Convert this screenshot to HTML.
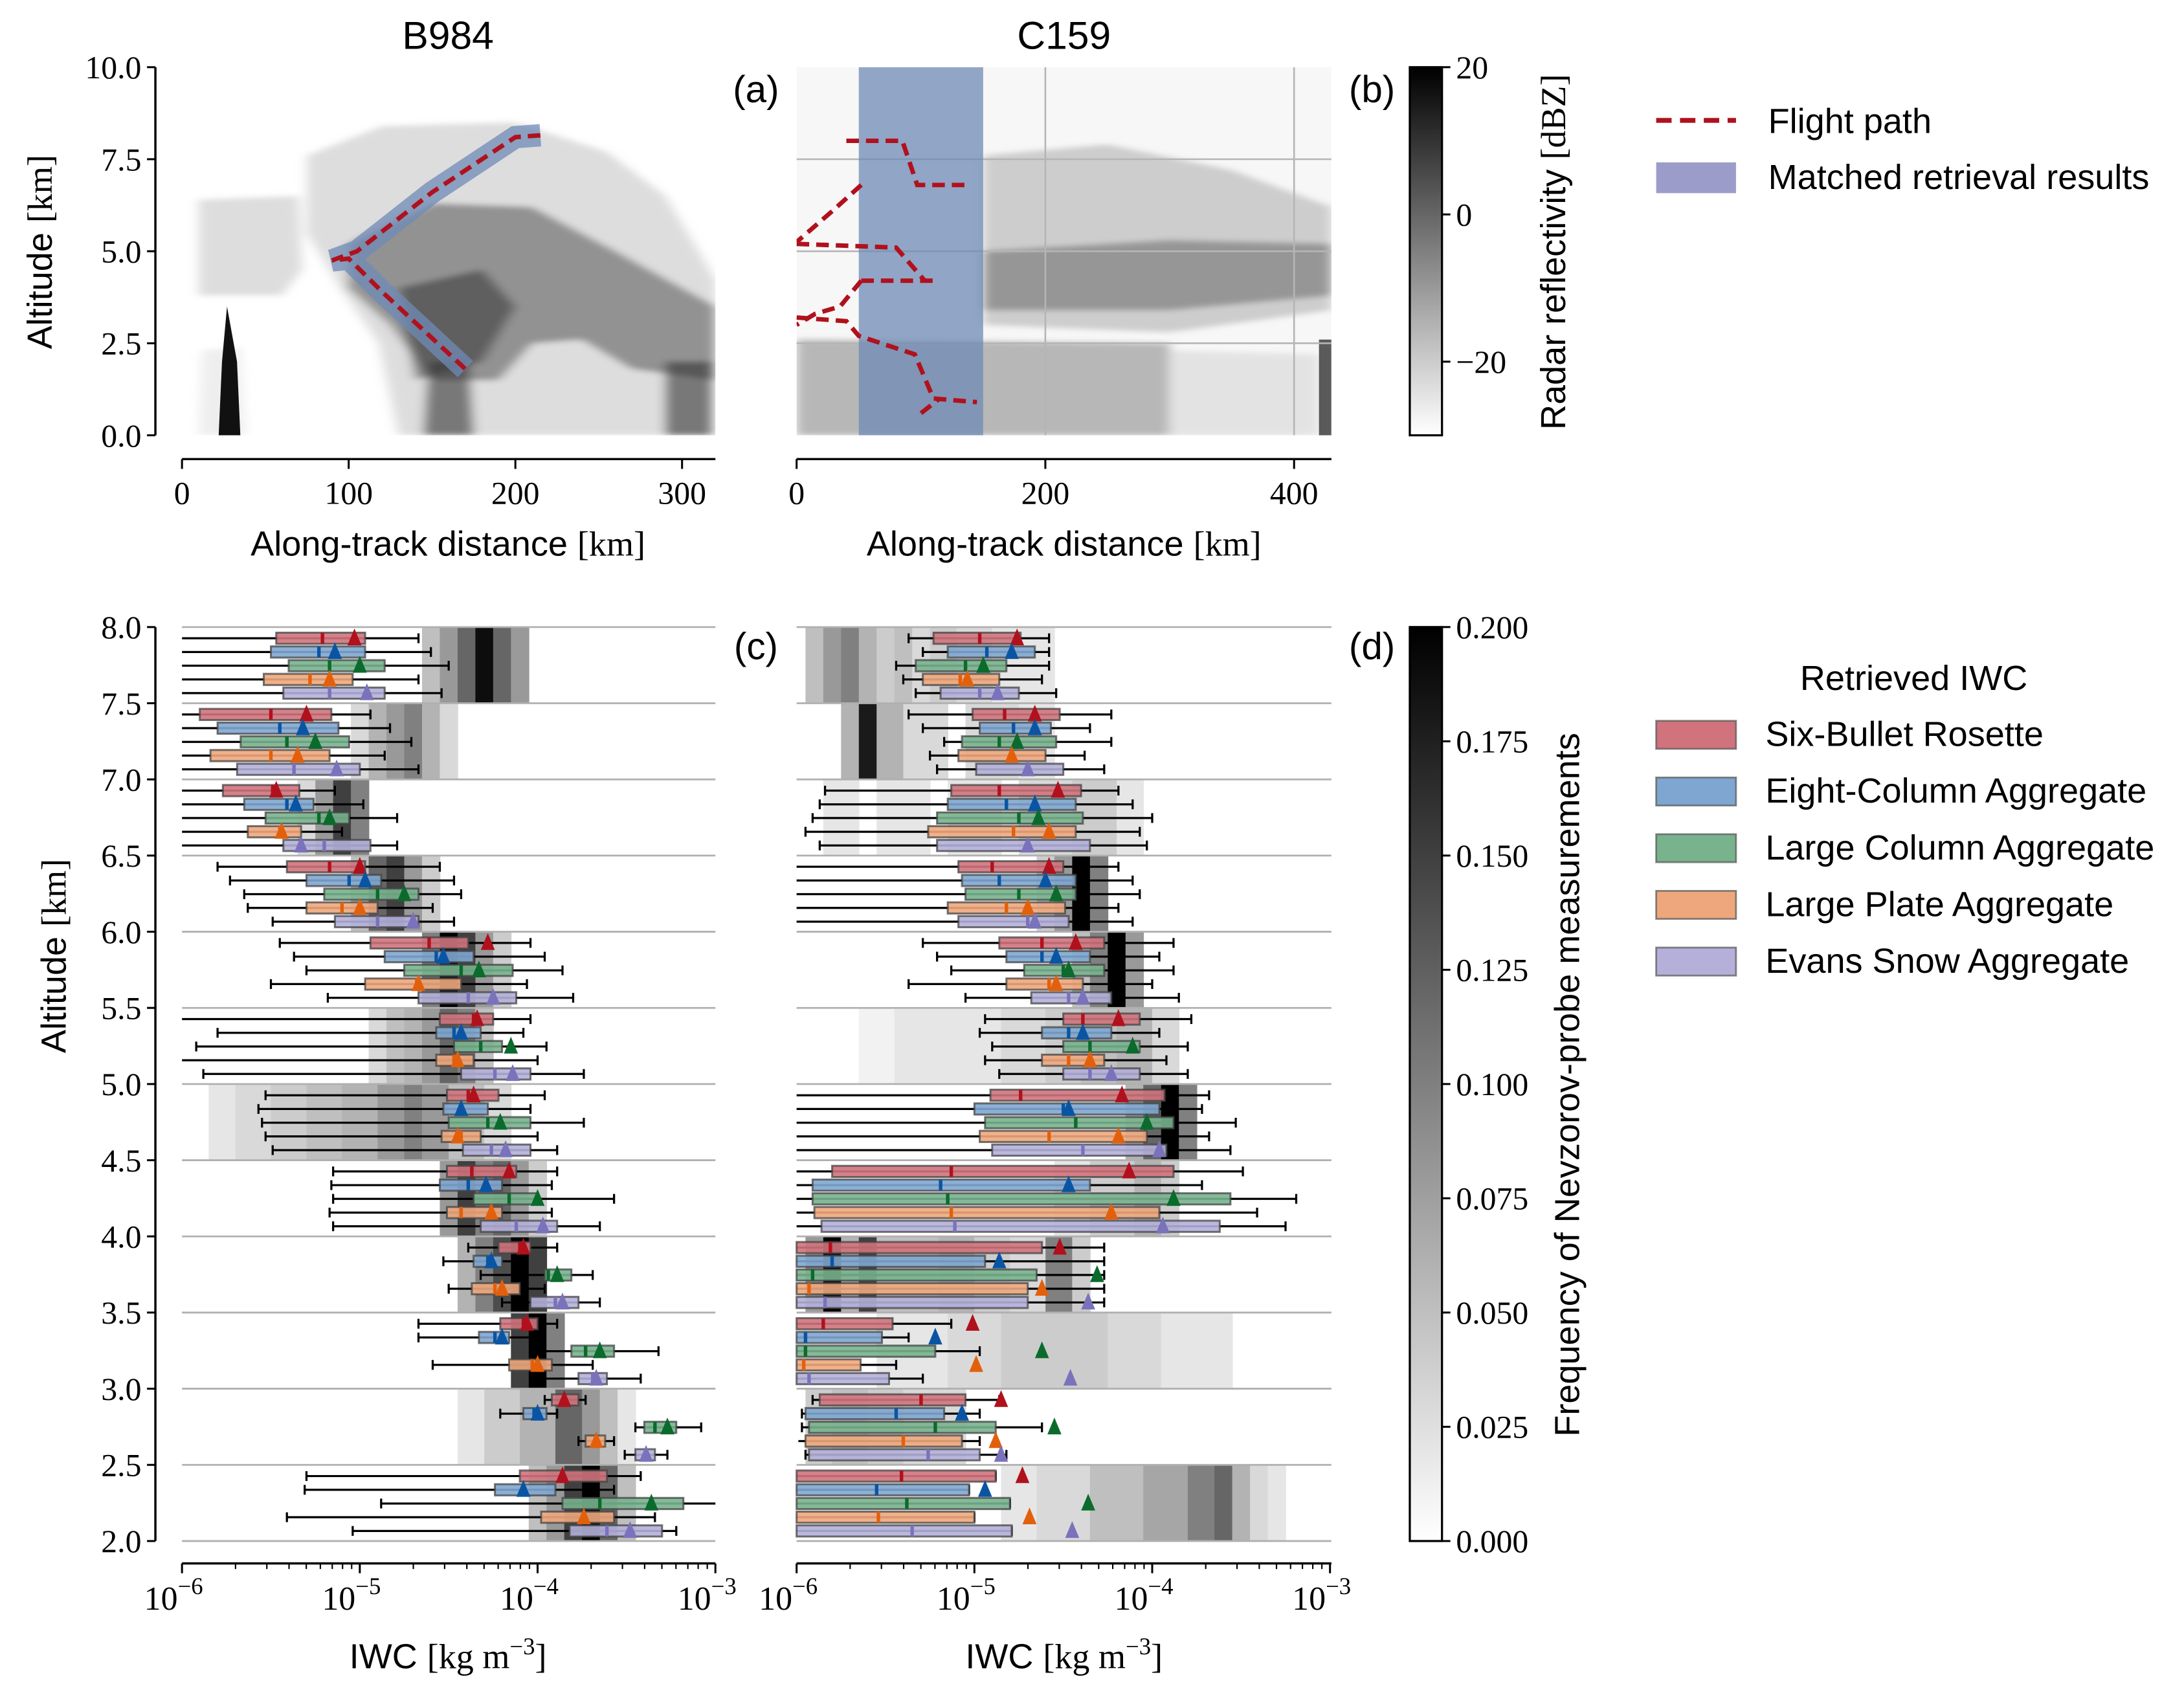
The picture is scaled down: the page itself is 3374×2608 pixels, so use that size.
<!DOCTYPE html>
<html><head><meta charset="utf-8">
<style>
html,body{margin:0;padding:0;background:#fff;}
svg{display:block;}
.sans{font-family:"Liberation Sans","DejaVu Sans",sans-serif;}
.serif{font-family:"Liberation Serif",serif;}
</style></head>
<body>
<svg id="fig" width="3374" height="2608" viewBox="0 0 1560 1206" preserveAspectRatio="none" xmlns="http://www.w3.org/2000/svg">
<defs>
<linearGradient id="greys" x1="0" y1="1" x2="0" y2="0">
<stop offset="0" stop-color="#ffffff"/><stop offset="1" stop-color="#000000"/>
</linearGradient>
<clipPath id="clipA"><rect x="130" y="48" width="381" height="263"/></clipPath>
<clipPath id="clipB"><rect x="569" y="48" width="382" height="263"/></clipPath>
<filter id="soft" x="-5%" y="-5%" width="110%" height="110%"><feGaussianBlur stdDeviation="4 2"/></filter>
</defs>
<g id="root"></g>
</svg>
<script>
// ---------- data ----------
const types = ["Six-Bullet Rosette","Eight-Column Aggregate","Large Column Aggregate","Large Plate Aggregate","Evans Snow Aggregate"];
const boxFill = ["#d0737c","#7fa6d0","#78b38e","#eea77c","#b4b0da"];
const markColor = ["#b0111d","#0a55a3","#0b6b2c","#e2600c","#7a72bb"];
const binTops = [8.0,7.5,7.0,6.5,6.0,5.5,5.0,4.5,4.0,3.5,3.0,2.5];
const altTicks = [2.0,2.5,3.0,3.5,4.0,4.5,5.0,5.5,6.0,6.5,7.0,7.5,8.0];
const topAltTicks = [0.0,2.5,5.0,7.5,10.0];
const distTicksA = [0,100,200,300];
const distTicksB = [0,200,400];
const dbzTicks = [20,0,-20];
const freqTicks = [0.000,0.025,0.050,0.075,0.100,0.125,0.150,0.175,0.200];
const iwcTicks = [-6,-5,-4,-3];
// rows per bin: [whiskerLow, q1, median, q3, whiskerHigh, mean] (log10 IWC)
const c_SBR=[[-6,-5.47,-5.21,-4.97,-4.67,-5.03],[-6,-5.9,-5.5,-5.16,-4.94,-5.3],[-6,-5.77,-5.49,-5.34,-5.14,-5.47],[-5.8,-5.41,-5.17,-4.97,-4.55,-5.0],[-5.45,-4.94,-4.61,-4.39,-4.04,-4.28],[-6,-4.55,-4.36,-4.25,-4.04,-4.34],[-5.53,-4.51,-4.39,-4.22,-3.96,-4.36],[-5.15,-4.51,-4.37,-4.12,-3.89,-4.16],[-4.39,-4.22,-4.1,-4.04,-3.89,-4.08],[-4.67,-4.21,-4.08,-4.0,-3.89,-4.06],[-3.96,-3.92,-3.85,-3.77,-3.73,-3.85],[-5.3,-4.1,-3.86,-3.61,-3.42,-3.86]];
const c_ECA=[[-6,-5.5,-5.23,-4.97,-4.6,-5.14],[-6,-5.8,-5.45,-5.12,-4.83,-5.32],[-6,-5.65,-5.41,-5.26,-4.98,-5.36],[-5.73,-5.3,-5.06,-4.88,-4.47,-4.97],[-5.37,-4.86,-4.57,-4.36,-3.96,-4.53],[-5.8,-4.57,-4.47,-4.32,-4.08,-4.43],[-5.57,-4.53,-4.43,-4.28,-4.04,-4.43],[-5.16,-4.55,-4.39,-4.2,-3.92,-4.29],[-4.53,-4.36,-4.28,-4.2,-4.1,-4.26],[-4.67,-4.33,-4.24,-4.16,-4.0,-4.2],[-4.21,-4.08,-4.02,-3.95,-3.89,-4.0],[-5.31,-4.24,-4.08,-3.9,-3.57,-4.08]];
const c_LCA=[[-6,-5.4,-5.17,-4.86,-4.5,-5.0],[-6,-5.67,-5.41,-5.06,-4.71,-5.25],[-6,-5.53,-5.23,-5.06,-4.79,-5.17],[-5.65,-5.2,-4.9,-4.67,-4.43,-4.75],[-5.3,-4.75,-4.43,-4.14,-3.86,-4.33],[-5.92,-4.47,-4.32,-4.2,-3.95,-4.15],[-5.55,-4.5,-4.28,-4.04,-3.74,-4.21],[-5.15,-4.36,-4.16,-4.0,-3.57,-4.0],[-4.32,-3.96,-3.94,-3.81,-3.69,-3.89],[-4.04,-3.81,-3.73,-3.57,-3.32,-3.65],[-3.45,-3.4,-3.34,-3.22,-3.08,-3.27],[-4.88,-3.86,-3.65,-3.18,-3.0,-3.36]];
const c_LPA=[[-6,-5.54,-5.28,-5.04,-4.67,-5.17],[-6,-5.84,-5.5,-5.17,-4.86,-5.35],[-6,-5.63,-5.45,-5.33,-5.1,-5.44],[-5.63,-5.3,-5.1,-4.9,-4.59,-5.0],[-5.5,-4.97,-4.68,-4.43,-4.06,-4.67],[-6,-4.57,-4.47,-4.36,-4.0,-4.45],[-5.53,-4.54,-4.43,-4.32,-4.0,-4.45],[-5.17,-4.51,-4.43,-4.2,-3.92,-4.26],[-4.5,-4.37,-4.24,-4.1,-3.96,-4.2],[-4.59,-4.16,-4.03,-3.92,-3.69,-4.0],[-3.77,-3.73,-3.67,-3.62,-3.57,-3.67],[-5.41,-3.98,-3.74,-3.57,-3.34,-3.74]];
const c_ESA=[[-6,-5.43,-5.17,-4.86,-4.54,-4.96],[-6,-5.69,-5.37,-5.0,-4.67,-5.13],[-6,-5.43,-5.2,-4.94,-4.79,-5.33],[-5.49,-5.14,-4.9,-4.67,-4.47,-4.7],[-5.18,-4.67,-4.39,-4.12,-3.8,-4.25],[-5.88,-4.43,-4.24,-4.04,-3.74,-4.14],[-5.49,-4.42,-4.26,-4.04,-3.89,-4.18],[-5.15,-4.32,-4.12,-3.89,-3.65,-3.97],[-4.2,-4.04,-3.9,-3.77,-3.65,-3.86],[-4.0,-3.77,-3.69,-3.61,-3.42,-3.67],[-3.51,-3.45,-3.39,-3.34,-3.27,-3.39],[-5.04,-3.82,-3.61,-3.3,-3.22,-3.48]];
const d_SBR=[[-5.37,-5.23,-4.97,-4.74,-4.58,-4.76],[-5.37,-5.01,-4.83,-4.52,-4.23,-4.66],[-5.84,-5.13,-4.86,-4.4,-4.19,-4.53],[-6,-5.09,-4.9,-4.5,-4.19,-4.58],[-5.29,-4.86,-4.62,-4.27,-3.88,-4.43],[-4.94,-4.5,-4.39,-4.07,-3.78,-4.19],[-6,-4.91,-4.74,-3.93,-3.68,-4.17],[-6,-5.8,-5.13,-3.88,-3.49,-4.13],[-6,-6,-5.81,-4.62,-4.27,-4.52],[-6,-6,-5.85,-5.46,-5.13,-5.01],[-5.91,-5.87,-5.3,-5.05,-4.86,-4.85],[-6,-6,-5.41,-4.88,-4.88,-4.73]];
const d_ECA=[[-5.29,-5.15,-4.93,-4.66,-4.58,-4.79],[-5.29,-4.97,-4.78,-4.57,-4.35,-4.66],[-5.87,-5.15,-4.82,-4.43,-4.11,-4.66],[-6,-5.07,-4.86,-4.43,-4.11,-4.6],[-5.21,-4.82,-4.62,-4.35,-3.96,-4.54],[-4.97,-4.62,-4.47,-4.23,-3.96,-4.39],[-6,-5.0,-4.5,-3.96,-3.72,-4.47],[-6,-5.91,-5.19,-4.35,-3.72,-4.47],[-6,-6,-5.8,-4.94,-4.27,-4.86],[-6,-6,-5.95,-5.52,-5.37,-5.22],[-5.97,-5.95,-5.44,-5.17,-4.97,-5.07],[-6,-6,-5.55,-5.03,-5.03,-4.94]];
const d_LCA=[[-5.44,-5.33,-5.05,-4.82,-4.58,-4.95],[-5.17,-5.07,-4.86,-4.54,-4.23,-4.76],[-5.91,-5.21,-4.75,-4.39,-4.0,-4.64],[-6,-5.05,-4.75,-4.43,-4.07,-4.54],[-5.13,-4.72,-4.5,-4.27,-3.88,-4.47],[-4.9,-4.5,-4.35,-4.07,-3.8,-4.11],[-6,-4.94,-4.43,-3.88,-3.53,-4.03],[-6,-5.91,-5.15,-3.56,-3.19,-3.88],[-6,-6,-5.91,-4.65,-4.27,-4.31],[-6,-6,-5.95,-5.22,-4.97,-4.62],[-5.97,-5.93,-5.22,-4.88,-4.62,-4.55],[-6,-6,-5.38,-4.8,-4.8,-4.36]];
const d_LPA=[[-5.4,-5.29,-5.08,-4.86,-4.62,-5.04],[-5.25,-5.09,-4.79,-4.6,-4.38,-4.79],[-5.95,-5.26,-4.78,-4.43,-4.07,-4.58],[-6,-5.15,-4.82,-4.49,-4.19,-4.7],[-5.37,-4.82,-4.58,-4.39,-4.0,-4.54],[-4.94,-4.62,-4.47,-4.27,-3.92,-4.35],[-6,-4.97,-4.58,-4.03,-3.68,-4.19],[-6,-5.9,-5.13,-3.96,-3.41,-4.23],[-6,-6,-5.93,-4.7,-4.27,-4.62],[-6,-6,-5.96,-5.64,-5.44,-4.99],[-5.99,-5.95,-5.4,-5.07,-4.97,-4.88],[-6,-6,-5.54,-5.0,-5.0,-4.69]];
const d_ESA=[[-5.33,-5.19,-4.97,-4.75,-4.54,-4.87],[-5.21,-4.99,-4.7,-4.5,-4.27,-4.7],[-5.87,-5.21,-4.7,-4.35,-4.03,-4.7],[-6,-5.09,-4.7,-4.47,-4.11,-4.66],[-5.05,-4.68,-4.47,-4.23,-3.85,-4.39],[-4.86,-4.5,-4.35,-4.07,-3.8,-4.23],[-6,-4.9,-4.39,-3.92,-3.56,-3.96],[-6,-5.86,-5.11,-3.62,-3.25,-3.94],[-6,-6,-5.84,-4.7,-4.27,-4.36],[-6,-6,-5.93,-5.48,-5.29,-4.46],[-5.95,-5.93,-5.26,-4.97,-4.82,-4.85],[-6,-6,-5.35,-4.79,-4.79,-4.45]];
// heatmap cells per bin: [log10 center, frequency]
const c_heat=[[[-4.6,0.05],[-4.5,0.08],[-4.4,0.12],[-4.3,0.19],[-4.2,0.12],[-4.1,0.08]],[[-5.0,0.03],[-4.9,0.06],[-4.8,0.08],[-4.7,0.1],[-4.6,0.06],[-4.5,0.03]],[[-5.3,0.03],[-5.2,0.08],[-5.1,0.15],[-5.0,0.1]],[[-5.0,0.05],[-4.9,0.12],[-4.8,0.15],[-4.7,0.08],[-4.6,0.04]],[[-4.6,0.1],[-4.5,0.2],[-4.4,0.15],[-4.3,0.08],[-4.2,0.04]],[[-4.9,0.03],[-4.8,0.05],[-4.7,0.06],[-4.6,0.08],[-4.5,0.12],[-4.4,0.1],[-4.3,0.05]],[[-5.8,0.02],[-5.6,0.03],[-5.4,0.04],[-5.2,0.05],[-5.0,0.06],[-4.8,0.08],[-4.7,0.1],[-4.6,0.08],[-4.4,0.05],[-4.2,0.03]],[[-4.5,0.08],[-4.4,0.15],[-4.3,0.1],[-4.2,0.12],[-4.1,0.08],[-4.0,0.04]],[[-4.4,0.06],[-4.3,0.1],[-4.2,0.14],[-4.1,0.2],[-4.0,0.15]],[[-4.1,0.15],[-4.0,0.2],[-3.9,0.1]],[[-4.4,0.02],[-4.2,0.04],[-4.0,0.06],[-3.8,0.12],[-3.7,0.08],[-3.6,0.05],[-3.5,0.02]],[[-4.0,0.05],[-3.9,0.08],[-3.8,0.15],[-3.7,0.2],[-3.6,0.12],[-3.5,0.05]]];
const d_heat=[[[-5.9,0.05],[-5.8,0.08],[-5.7,0.1],[-5.6,0.06],[-5.5,0.04],[-5.4,0.05],[-5.3,0.03],[-5.2,0.04],[-5.0,0.03],[-4.8,0.02],[-4.6,0.02]],[[-5.7,0.06],[-5.6,0.18],[-5.5,0.06],[-5.3,0.03],[-4.9,0.03],[-4.6,0.02]],[[-5.8,0.02],[-5.4,0.02],[-5.0,0.02],[-4.6,0.03],[-4.3,0.04],[-4.1,0.02]],[[-4.6,0.04],[-4.5,0.08],[-4.4,0.2],[-4.3,0.1]],[[-4.4,0.05],[-4.3,0.1],[-4.2,0.2],[-4.1,0.08]],[[-5.6,0.01],[-5.3,0.02],[-5.0,0.02],[-4.7,0.03],[-4.5,0.04],[-4.3,0.05],[-4.1,0.06],[-3.9,0.03]],[[-4.1,0.06],[-4.0,0.12],[-3.9,0.2],[-3.8,0.1]],[[-4.5,0.02],[-4.2,0.04],[-4.0,0.06],[-3.9,0.04]],[[-5.9,0.08],[-5.8,0.2],[-5.7,0.06],[-5.6,0.15],[-5.5,0.05],[-5.3,0.05],[-5.1,0.06],[-4.9,0.04],[-4.7,0.03],[-4.5,0.1],[-4.4,0.04]],[[-5.5,0.02],[-5.3,0.02],[-5.0,0.03],[-4.7,0.04],[-4.4,0.04],[-4.1,0.03],[-3.8,0.02],[-3.6,0.02]],[[-5.9,0.04],[-5.7,0.05],[-5.5,0.04],[-5.3,0.03],[-5.1,0.03]],[[-4.8,0.02],[-4.5,0.03],[-4.2,0.05],[-3.9,0.07],[-3.7,0.1],[-3.6,0.12],[-3.5,0.06],[-3.4,0.03],[-3.3,0.02]]];
// flight paths [km, altitude km]
const pathA = [[215,8.15],[200,8.1],[150,6.6],[105,5.0],[90,4.75],[100,4.8],[120,3.9],[170,1.8]];
const pathB = [[[40,8.0],[85,8.0],[97,6.8],[136,6.8]],[[52,6.8],[29,6.1],[0,5.25]],[[0,5.2],[80,5.1],[103,4.2]],[[52,4.2],[110,4.2]],[[52,4.2],[35,3.5],[15,3.3],[0,3.0]],[[0,3.2],[40,3.1],[50,2.7],[95,2.2],[110,1.0],[145,0.9]],[[100,0.6],[115,1.0]]];
const matchedB = [50,150];

// ---------- helpers ----------
const NS="http://www.w3.org/2000/svg";
const root=document.getElementById('root');
function el(tag,attrs,parent){const e=document.createElementNS(NS,tag);for(const k in attrs)e.setAttribute(k,attrs[k]);(parent||root).appendChild(e);return e;}
function txt(s,x,y,cls,size,anchor,parent){const t=el('text',{x:x,y:y,'class':cls,'font-size':size,'text-anchor':anchor||'middle'},parent);t.textContent=s;return t;}
const xA=km=>130+km*(381/320);
const xB=km=>569+km*(382/430);
const yT=a=>311-a*26.3;
const yC=a=>1101-(a-2)*108.83;
const xC=L=>130+(L+6)*127;
const xD=L=>569+(L+6)*127;
const grey=f=>{const v=Math.round(255*(1-Math.min(f,0.2)/0.2));return `rgb(${v},${v},${v})`;};

// ---------- panel a radar ----------
const ga=el('g',{'clip-path':'url(#clipA)'});


const gaS=el('g',{filter:'url(#soft)'},ga);
function poly(pts,sx,sy,fill,op,g){return el('polygon',{points:pts.map(p=>sx(p[0])+','+sy(p[1])).join(' '),fill:fill,opacity:op},g);}
poly([[10,6.4],[70,6.5],[72,4.5],[60,3.8],[10,3.8]],xA,yT,'#bbb',0.5,gaS);
poly([[12,2.3],[35,2.4],[38,0],[10,0]],xA,yT,'#ddd',0.5,gaS);
poly([[75,7.6],[120,8.4],[200,8.5],[255,7.7],[290,6.5],[310,5],[320,4.2],[320,0],[200,0],[130,0],[118,2.5],[95,4.0],[75,5.5]],xA,yT,'#bbb',0.5,gaS);
poly([[100,5.2],[150,6.3],[210,6.2],[260,5.0],[300,4.0],[320,3.5],[320,1.5],[270,1.8],[240,2.6],[210,2.5],[190,1.5],[150,1.5],[125,3.0],[100,4.0]],xA,yT,'#555',0.55,gaS);
poly([[130,4.0],[180,4.5],[200,3.5],[180,2.0],[140,1.5]],xA,yT,'#222',0.45,gaS);
poly([[145,0],[175,0],[172,2],[148,2]],xA,yT,'#333',0.6,gaS);
poly([[290,0],[318,0],[318,2],[290,2]],xA,yT,'#333',0.6,gaS);
poly([[22,0],[35,0],[33,2],[27,3.5],[24,2]],xA,yT,'#111',1,ga);
const bandA=el('polyline',{points:pathA.map(p=>xA(p[0])+','+yT(p[1])).join(' '),fill:'none',stroke:'#6f89b6','stroke-width':16,opacity:0.75,'stroke-linejoin':'miter'},ga);


const fpA=el('polyline',{points:pathA.map(p=>xA(p[0])+','+yT(p[1])).join(' '),fill:'none',stroke:'#b0111d','stroke-width':3.2,'stroke-dasharray':'9,5'},ga);



// ---------- panel b radar ----------
const gb=el('g',{'clip-path':'url(#clipB)'});


el('rect',{x:569,y:48,width:382,height:263,fill:'#f7f7f7'},gb);
const gbS=el('g',{filter:'url(#soft)'},gb);
poly([[150,7.6],[250,7.9],[350,7.2],[430,6.2],[430,3.4],[300,2.8],[150,3.0]],xB,yT,'#999',0.45,gbS);
poly([[150,5.0],[300,5.3],[430,5.2],[430,3.8],[300,3.4],[150,3.4]],xB,yT,'#555',0.45,gbS);
poly([[0,2.6],[300,2.5],[300,0],[0,0]],xB,yT,'#777',0.5,gbS);
poly([[300,2.3],[420,2.2],[420,0],[300,0]],xB,yT,'#ccc',0.45,gbS);
poly([[420,2.6],[430,2.6],[430,0],[420,0]],xB,yT,'#333',0.8,gb);
[2.5,5,7.5].forEach(a=>el('line',{x1:569,x2:951,y1:yT(a),y2:yT(a),stroke:'#b5b5b5','stroke-width':1.2},gb));
[200,400].forEach(k=>el('line',{x1:xB(k),x2:xB(k),y1:48,y2:311,stroke:'#b5b5b5','stroke-width':1.2},gb));
const mb=el('rect',{x:xB(matchedB[0]),y:48,width:xB(matchedB[1])-xB(matchedB[0]),height:263,fill:'#6f89b6',opacity:0.75},gb);


pathB.forEach(seg=>{
 const p=el('polyline',{points:seg.map(q=>xB(q[0])+','+yT(q[1])).join(' '),fill:'none',stroke:'#b0111d','stroke-width':3.2,'stroke-dasharray':'9,5'},gb);
 
 
});

// ---------- top axes ----------
function axisLeft(ticks,sy,fmt,x){
 el('line',{x1:x,x2:x,y1:sy(ticks[0]),y2:sy(ticks[ticks.length-1]),stroke:'#000','stroke-width':1.6});
 ticks.forEach(t=>{el('line',{x1:x-6,x2:x,y1:sy(t),y2:sy(t),stroke:'#000','stroke-width':1.4});
  const l=txt(fmt(t),x-10,sy(t)+8,'serif',23,'end');
  
  });
}
function axisBottom(ticks,sx,x0,x1,y,fmt){
 el('line',{x1:x0,x2:x1,y1:y,y2:y,stroke:'#000','stroke-width':1.6});
 ticks.forEach(t=>{el('line',{x1:sx(t),x2:sx(t),y1:y,y2:y+7,stroke:'#000','stroke-width':1.4});
  const l=txt(fmt(t),sx(t),y+32,'serif',23);
  
  });
}
axisLeft(topAltTicks,yT,t=>t.toFixed(1),111);
axisBottom(distTicksA,xA,130,511,328,t=>String(t));
axisBottom(distTicksB,xB,569,951,328,t=>String(t));
function rotLabel(parts,x,y,size){const t=el('text',{x:0,y:0,'font-size':size,'text-anchor':'middle',transform:`translate(${x},${y}) rotate(-90)`});
 parts.forEach(p=>{const s=el('tspan',{'class':p[1]},t);s.textContent=p[0];});return t;}
function hLabel(parts,x,y,size){const t=el('text',{x:x,y:y,'font-size':size,'text-anchor':'middle'});
 parts.forEach(p=>{const s=el('tspan',{'class':p[1]},t);if(p[2])s.setAttribute('dy',p[2]);if(p[3])s.setAttribute('font-size',p[3]);s.textContent=p[0];});return t;}
let lab=rotLabel([['Altitude ','sans'],['[km]','serif']],37,180,25);

lab=hLabel([['Along-track distance ','sans'],['[km]','serif']],320,397,25);

lab=hLabel([['Along-track distance ','sans'],['[km]','serif']],760,397,25);

lab=txt('B984',320,35,'sans',28);
lab=txt('C159',760,35,'sans',28);
[['(a)',540,73],['(b)',980,73],['(c)',540,471],['(d)',980,471]].forEach(p=>{const l=txt(p[0],p[1],p[2],'sans',27);
 });

// ---------- colorbars ----------
function colorbar(y0,y1,ticks,sy,fmt,name){
 const r=el('rect',{x:1007,y:y0,width:23,height:y1-y0,fill:'url(#greys)',stroke:'#000','stroke-width':1.5});
 
 ticks.forEach(t=>{el('line',{x1:1030,x2:1036,y1:sy(t),y2:sy(t),stroke:'#000','stroke-width':1.4});
  const l=txt(fmt(t),1040,sy(t)+8,'serif',23,'start');
  });
}
colorbar(48,311,dbzTicks,v=>311-(v+30)*(263/50),v=>v<0?'\u2212'+Math.abs(v):String(v),'reflectivity-colorbar');
colorbar(448,1101,freqTicks,v=>1101-v*(653/0.2),v=>v.toFixed(3),'frequency-colorbar');
lab=rotLabel([['Radar reflectivity ','sans'],['[dBZ]','serif']],1118,180,25);

lab=rotLabel([['Frequency of Nevzorov-probe measurements','sans']],1128,775,25);


// ---------- bottom panels ----------
function boxPanel(sx,x0,x1,heat,sets,pname){
 const g=el('g',{});
 
 
 binTops.forEach((top,b)=>{
  const yt=yC(top),yb=yC(top-0.5);
  const cells=heat[b];
  cells.forEach((c,k)=>{
   const lo=k>0?Math.max((cells[k-1][0]+c[0])/2,c[0]-0.15):c[0]-0.05;
   const hi=k<cells.length-1?Math.min((cells[k+1][0]+c[0])/2,c[0]+0.15):c[0]+0.05;
   const r=el('rect',{x:sx(lo),y:yt,width:sx(hi)-sx(lo)+0.4,height:yb-yt,fill:grey(c[1])},g);
   });
 });
 altTicks.forEach(a=>el('line',{x1:x0,x2:x1,y1:yC(a),y2:yC(a),stroke:'#b0b0b0','stroke-width':1.3},g));
 binTops.forEach((top,b)=>{
  sets.forEach((set,i)=>{
   const d=set[b];const yc=yC(top)+8+i*9.8;
   const wl=el('line',{x1:sx(d[0]),x2:sx(d[4]),y1:yc,y2:yc,stroke:'#000','stroke-width':1.5},g);
   
   [d[0],d[4]].forEach(v=>{if(v>-5.99&&v<-3.01)el('line',{x1:sx(v),x2:sx(v),y1:yc-3.5,y2:yc+3.5,stroke:'#000','stroke-width':1.5},g);});
   const bx=el('rect',{x:sx(d[1]),y:yc-4,width:Math.max(sx(d[3])-sx(d[1]),0.5),height:8,fill:boxFill[i],'fill-opacity':0.9,stroke:'#444','stroke-opacity':0.75,'stroke-width':1.4},g);
   
   const md=el('line',{x1:sx(d[2]),x2:sx(d[2]),y1:yc-4,y2:yc+4,stroke:markColor[i],'stroke-width':2.5},g);
   
   const mx=sx(d[5]);
   const tr=el('polygon',{points:`${mx-5},${yc+5} ${mx+5},${yc+5} ${mx},${yc-7}`,fill:markColor[i]},g);
   
  });
 });
 el('line',{x1:x0,x2:x1,y1:1117,y2:1117,stroke:'#000','stroke-width':1.6});
 for(let dcd=-6;dcd<-3;dcd++)for(let m=2;m<10;m++){const xx=sx(dcd+Math.log10(m));el('line',{x1:xx,x2:xx,y1:1117,y2:1121,stroke:'#000','stroke-width':1});}
 iwcTicks.forEach(t=>{el('line',{x1:sx(t),x2:sx(t),y1:1117,y2:1124,stroke:'#000','stroke-width':1.4});
  const l=el('text',{x:sx(t)-6,y:1150,'font-size':24,'text-anchor':'middle','class':'serif'});
  
  const a=el('tspan',{},l);a.textContent='10';const s=el('tspan',{dy:-11,'font-size':17},l);s.textContent='\u2212'+Math.abs(t);});
}
boxPanel(xC,130,511,c_heat,[c_SBR,c_ECA,c_LCA,c_LPA,c_ESA],'panel-c');
boxPanel(xD,569,951,d_heat,[d_SBR,d_ECA,d_LCA,d_LPA,d_ESA],'panel-d');
axisLeft(altTicks,yC,t=>t.toFixed(1),111);
lab=rotLabel([['Altitude ','sans'],['[km]','serif']],47,683,25);

[[320,'x-axis-title-c'],[760,'x-axis-title-d']].forEach(p=>{
 const l=hLabel([['IWC ','sans'],['[kg m','serif'],['\u22123','serif','-10','17'],[']','serif','10']],p[0],1192,25);
 });

// ---------- legends ----------
let lg=el('g',{});

el('line',{x1:1183,x2:1240,y1:86,y2:86,stroke:'#b0111d','stroke-width':3.5,'stroke-dasharray':'11,6'},lg);
txt('Flight path',1263,95,'sans',25,'start',lg);
el('rect',{x:1183,y:116,width:57,height:22,fill:'#9c9ccb'},lg);
txt('Matched retrieval results',1263,135,'sans',25,'start',lg);
lg=el('g',{});

txt('Retrieved IWC',1367,493,'sans',25,'middle',lg);
types.forEach((t,i)=>{const y=525+i*40.5;
 const e=el('g',{},lg);
 
 
 el('rect',{x:1183,y:y-10,width:57,height:20,fill:boxFill[i],stroke:'#555','stroke-opacity':0.7,'stroke-width':1.3},e);
 txt(t,1261,y+8,'sans',25,'start',e);});
</script>
</body></html>
